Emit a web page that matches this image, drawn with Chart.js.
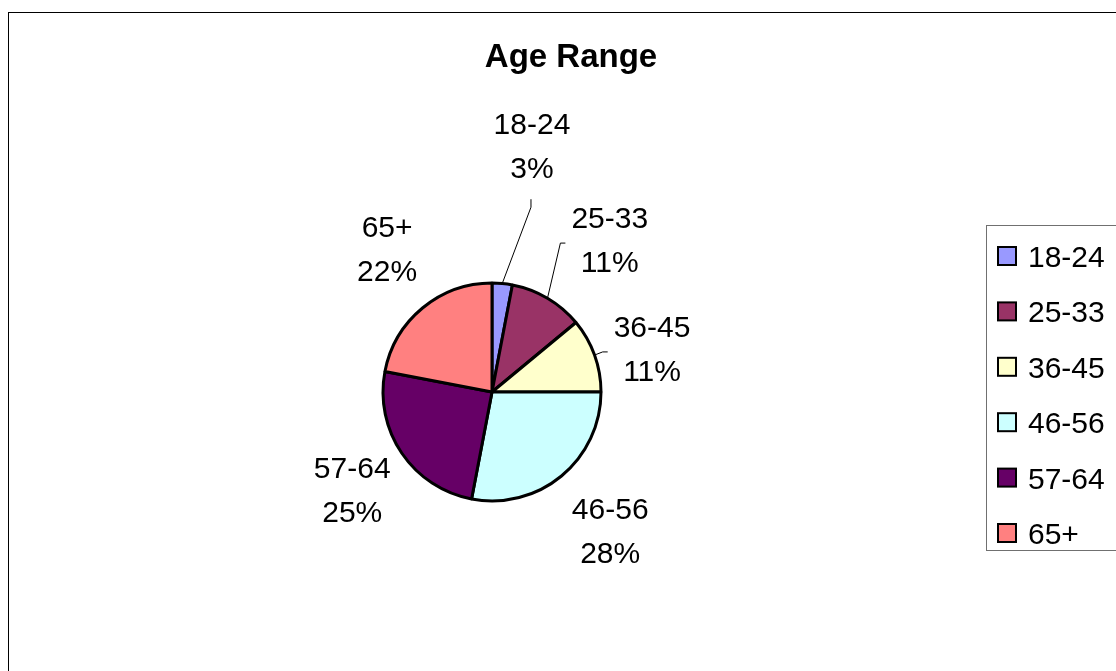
<!DOCTYPE html>
<html><head><meta charset="utf-8">
<script src="https://cdn.jsdelivr.net/npm/chart.js@4"></script>
<style>html,body{margin:0;padding:0;background:#fff;overflow:hidden}#wrap{width:1116px;height:671px;position:relative}</style>
</head><body><div id="wrap"><canvas id="c" width="1116" height="671"></canvas></div>
<script>
const categories = ['18-24', '25-33', '36-45', '46-56', '57-64', '65+'];
const percentages = [3, 11, 11, 28, 25, 22];
const chartTitle = 'Age Range';

const sliceColors = ['#9999FF', '#993366', '#FFFFCC', '#CCFFFF', '#660066', '#FF8080'];
const FONT = '"Liberation Sans", Arial, sans-serif';

// label placement: extra radial distance beyond the rim, angular shift (deg), leader style
const labelPlacement = [
  { extra: 141, shift: 3.8, leader: 'bottom' },
  { extra: 84, shift: 7.0, leader: 'side' },
  { extra: 57, shift: 4.4, leader: 'side' },
  { extra: 73, shift: -0.9, leader: null },
  { extra: 61, shift: -0.5, leader: null },
  { extra: 69, shift: 3.5, leader: null }
];

const decorPlugin = {
  id: 'decor',
  afterDraw(chart) {
    const ctx = chart.ctx;
    const meta = chart.getDatasetMeta(0);
    const ds = chart.data.datasets[0];
    ctx.save();
    // outer frame
    ctx.strokeStyle = '#000';
    ctx.lineWidth = 1;
    ctx.strokeRect(8.5, 12.5, 1400, 900);
    // title
    ctx.fillStyle = '#000';
    ctx.font = 'bold 33px ' + FONT;
    ctx.textAlign = 'center';
    ctx.textBaseline = 'alphabetic';
    ctx.fillText(chartTitle, 571, 67);

    // data labels
    ctx.font = '30px ' + FONT;
    meta.data.forEach((arc, i) => {
      const p = arc.getProps(['x', 'y', 'startAngle', 'endAngle', 'outerRadius'], true);
      const mid = (p.startAngle + p.endAngle) / 2;
      const pl = labelPlacement[i];
      const a = mid + pl.shift * Math.PI / 180;
      const d = p.outerRadius + pl.extra;
      const lx = p.x + d * Math.cos(a);
      const ly = p.y + d * Math.sin(a);
      const l1 = chart.data.labels[i];
      const l2 = ds.data[i] + '%';
      ctx.fillStyle = '#000';
      ctx.textAlign = 'center';
      ctx.fillText(l1, lx, ly - 11);
      ctx.fillText(l2, lx, ly + 33);
      if (pl.leader) {
        const w = Math.max(ctx.measureText(l1).width, ctx.measureText(l2).width);
        const sx = p.x + p.outerRadius * Math.cos(mid);
        const sy = p.y + p.outerRadius * Math.sin(mid);
        ctx.strokeStyle = '#000';
        ctx.lineWidth = 1;
        ctx.beginPath();
        if (pl.leader === 'bottom') {
          ctx.moveTo(lx - 1, ly + 54);
          ctx.lineTo(lx - 1, ly + 62);
        } else {
          const left = lx - w / 2;
          ctx.moveTo(left - 6, ly + 4);
          ctx.lineTo(left - 11, ly + 4);
        }
        ctx.lineTo(sx, sy);
        ctx.stroke();
      }
    });

    // legend
    ctx.strokeStyle = '#707070';
    ctx.lineWidth = 1;
    ctx.strokeRect(986.5, 225.5, 400, 325);
    ctx.textAlign = 'left';
    chart.data.labels.forEach((lab, i) => {
      const cy = 256 + 55.4 * i;
      ctx.fillStyle = ds.backgroundColor[i];
      ctx.fillRect(998, cy - 9, 18, 18);
      ctx.strokeStyle = '#000';
      ctx.lineWidth = 2;
      ctx.strokeRect(998, cy - 9, 18, 18);
      ctx.fillStyle = '#000';
      ctx.fillText(lab, 1028, cy + 11);
    });
    ctx.restore();
  }
};

new Chart(document.getElementById('c'), {
  type: 'pie',
  data: {
    labels: categories,
    datasets: [{
      data: percentages,
      backgroundColor: sliceColors,
      borderColor: '#000',
      borderWidth: 3
    }]
  },
  options: {
    responsive: false,
    animation: false,
    radius: 109,
    layout: { padding: { left: 200, right: 332, top: 250, bottom: 137 } },
    plugins: {
      legend: { display: false },
      tooltip: { enabled: false },
      title: { display: false }
    }
  },
  plugins: [decorPlugin]
});
</script>
</body></html>
